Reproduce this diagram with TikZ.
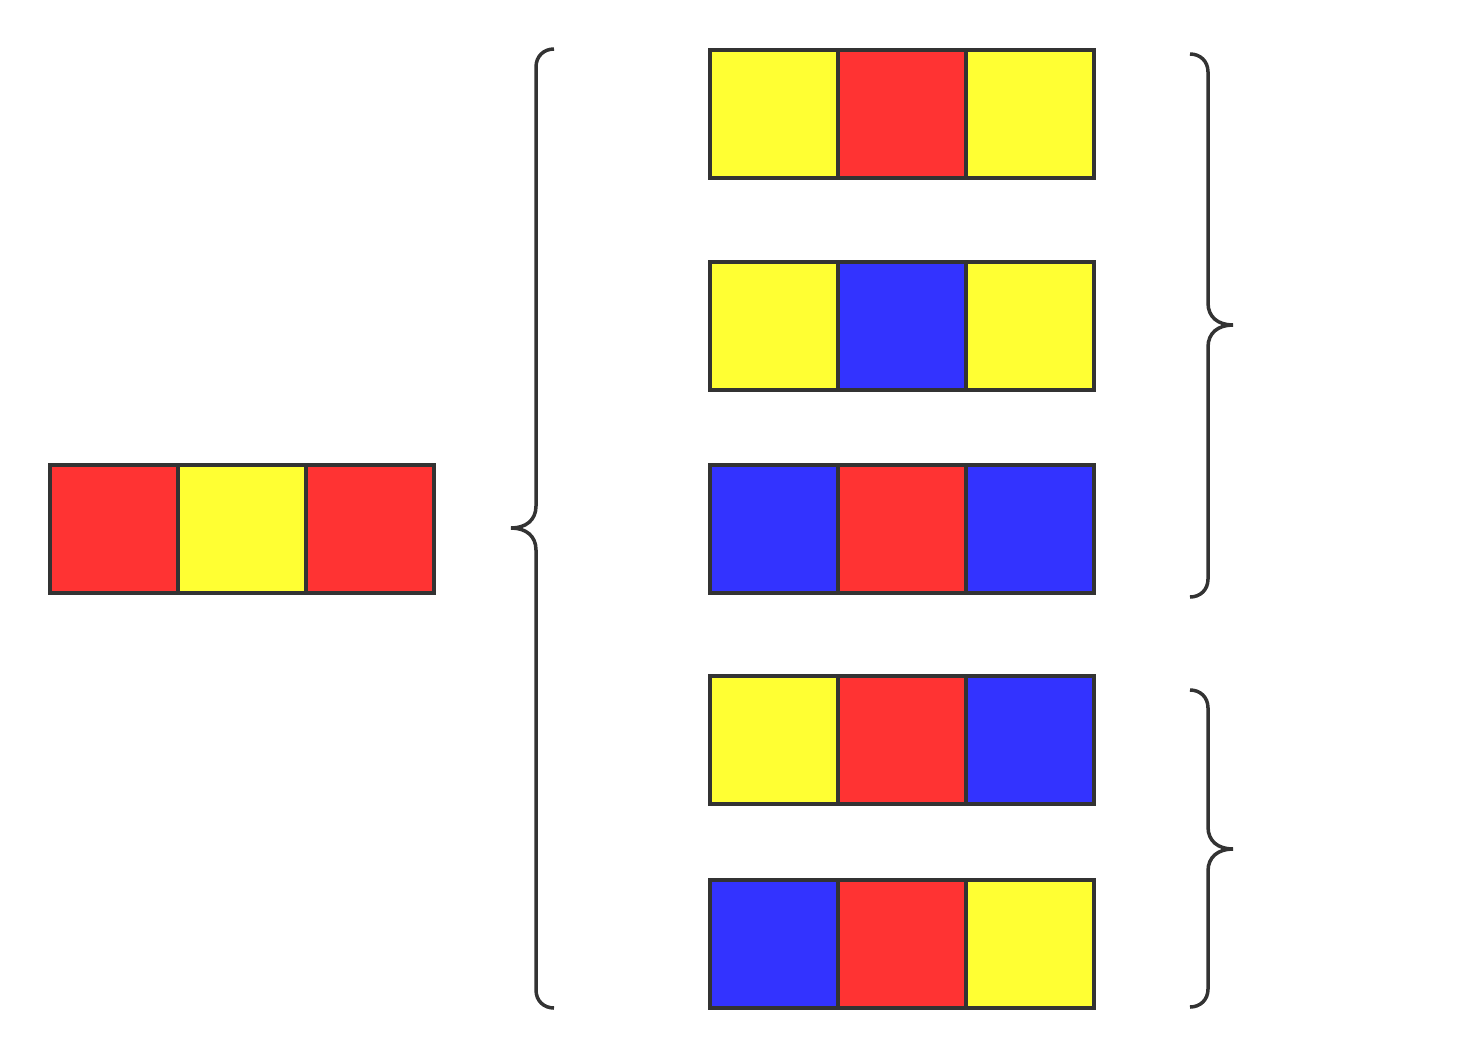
\documentclass[tikz,border=0pt]{standalone}
\begin{document}
\begin{tikzpicture}[x=1pt,y=-1pt,
  cell/.style={draw=linec,line width=3.8pt,minimum width=128pt,minimum height=128pt,inner sep=0pt,outer sep=0pt},
  Y/.style={cell,fill=yel},R/.style={cell,fill=redc},B/.style={cell,fill=blu},
  brace/.style={draw=linec,line width=3.5pt,line cap=butt}]
\definecolor{linec}{HTML}{333333}
\definecolor{yel}{HTML}{FFFF33}
\definecolor{redc}{HTML}{FF3333}
\definecolor{blu}{HTML}{3333FF}
\useasboundingbox (0,0) rectangle (1482,1058);
% left box
\node[R] (l1) at (114,529) {};
\node[Y] (l2) at (242,529) {};
\node[R] (l3) at (370,529) {};
% right rows
\node[Y] (a1) at (774,114) {};
\node[R] (a2) at (902,114) {};
\node[Y] (a3) at (1030,114) {};
\node[Y] (b1) at (774,326) {};
\node[B] (b2) at (902,326) {};
\node[Y] (b3) at (1030,326) {};
\node[B] (c1) at (774,529) {};
\node[R] (c2) at (902,529) {};
\node[B] (c3) at (1030,529) {};
\node[Y] (d1) at (774,740) {};
\node[R] (d2) at (902,740) {};
\node[B] (d3) at (1030,740) {};
\node[B] (e1) at (774,944) {};
\node[R] (e2) at (902,944) {};
\node[Y] (e3) at (1030,944) {};
% big left brace
\draw[brace] (554,49) .. controls (544,49) and (536,56) .. (536,67) -- (536,506)
  .. controls (536,520) and (526,528) .. (511,528) .. controls (526,528) and (536,536) .. (536,550)
  -- (536,990) .. controls (536,1001) and (544,1008) .. (554,1008);
% right brace 1
\draw[brace] (1190,54) .. controls (1200,54) and (1208,61) .. (1208,72) -- (1208,303)
  .. controls (1208,317) and (1218,325) .. (1233,325) .. controls (1218,325) and (1208,333) .. (1208,347)
  -- (1208,579) .. controls (1208,590) and (1200,597) .. (1190,597);
% right brace 2
\draw[brace] (1190,690) .. controls (1200,690) and (1208,697) .. (1208,708) -- (1208,827)
  .. controls (1208,841) and (1218,849) .. (1233,849) .. controls (1218,849) and (1208,857) .. (1208,871)
  -- (1208,989) .. controls (1208,1000) and (1200,1007) .. (1190,1007);
\end{tikzpicture}
\end{document}
